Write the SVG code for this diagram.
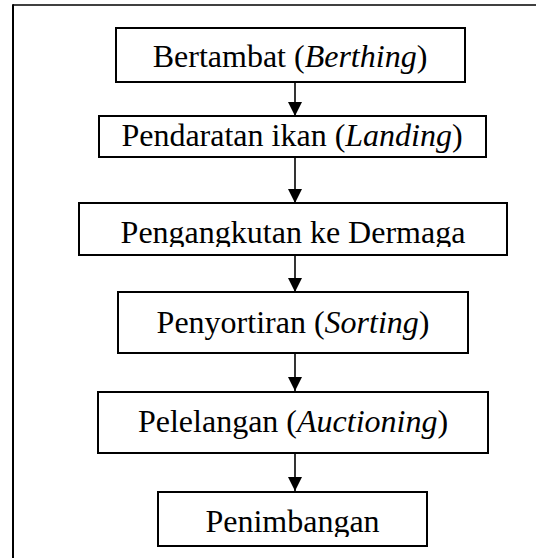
<svg xmlns="http://www.w3.org/2000/svg" width="536" height="558" viewBox="0 0 536 558">
<style>
.box{fill:#fff;stroke:#000;stroke-width:2}
.t{font-family:"Liberation Serif","Times New Roman",serif;font-size:32px;fill:#000;text-anchor:middle}
.i{font-style:italic}
.c{stroke:#000;stroke-width:1.6;fill:none}
.frame{stroke:#000;fill:none}
</style>
<defs>
<marker id="ah" viewBox="0 0 14 14" refX="14" refY="7" markerWidth="14" markerHeight="14" markerUnits="userSpaceOnUse" orient="auto">
<path d="M0,0 L14,7 L0,14 Z" fill="#000"/>
</marker>
<clipPath id="clip3"><rect x="79" y="203" width="428" height="44"/></clipPath>
<clipPath id="clip6"><rect x="158" y="492" width="269" height="45"/></clipPath>
</defs>
<rect width="536" height="558" fill="#fff"/>
<g id="frame">
<line class="frame" x1="13" y1="5" x2="536" y2="5" stroke-width="1.6"/>
<line class="frame" x1="13" y1="4.2" x2="13" y2="558" stroke-width="2"/>
</g>
<g id="connectors">
<line class="c" x1="295" y1="82" x2="295" y2="116" marker-end="url(#ah)"/>
<line class="c" x1="295" y1="157" x2="295" y2="203" marker-end="url(#ah)"/>
<line class="c" x1="295" y1="255" x2="295" y2="292" marker-end="url(#ah)"/>
<line class="c" x1="295" y1="353" x2="295" y2="391" marker-end="url(#ah)"/>
<line class="c" x1="295" y1="453" x2="295" y2="491" marker-end="url(#ah)"/>
</g>
<g id="n1">
<rect class="box" x="116" y="28" width="349" height="54"/>
<text class="t" x="290" y="67">Bertambat (<tspan class="i">Berthing</tspan>)</text>
</g>
<g id="n2">
<rect class="box" x="99" y="116" width="387" height="41"/>
<text class="t" x="292" y="146">Pendaratan ikan (<tspan class="i">Landing</tspan>)</text>
</g>
<g id="n3">
<rect class="box" x="79" y="203" width="428" height="52"/>
<text class="t" x="293" y="243" clip-path="url(#clip3)">Pengangkutan ke Dermaga</text>
</g>
<g id="n4">
<rect class="box" x="118" y="292" width="350" height="61"/>
<text class="t" x="293" y="333">Penyortiran (<tspan class="i">Sorting</tspan>)</text>
</g>
<g id="n5">
<rect class="box" x="98" y="392" width="390" height="61"/>
<text class="t" x="293" y="432">Pelelangan (<tspan class="i">Auctioning</tspan>)</text>
</g>
<g id="n6">
<rect class="box" x="158" y="492" width="269" height="54"/>
<text class="t" x="292.5" y="532" clip-path="url(#clip6)">Penimbangan</text>
</g>
</svg>
